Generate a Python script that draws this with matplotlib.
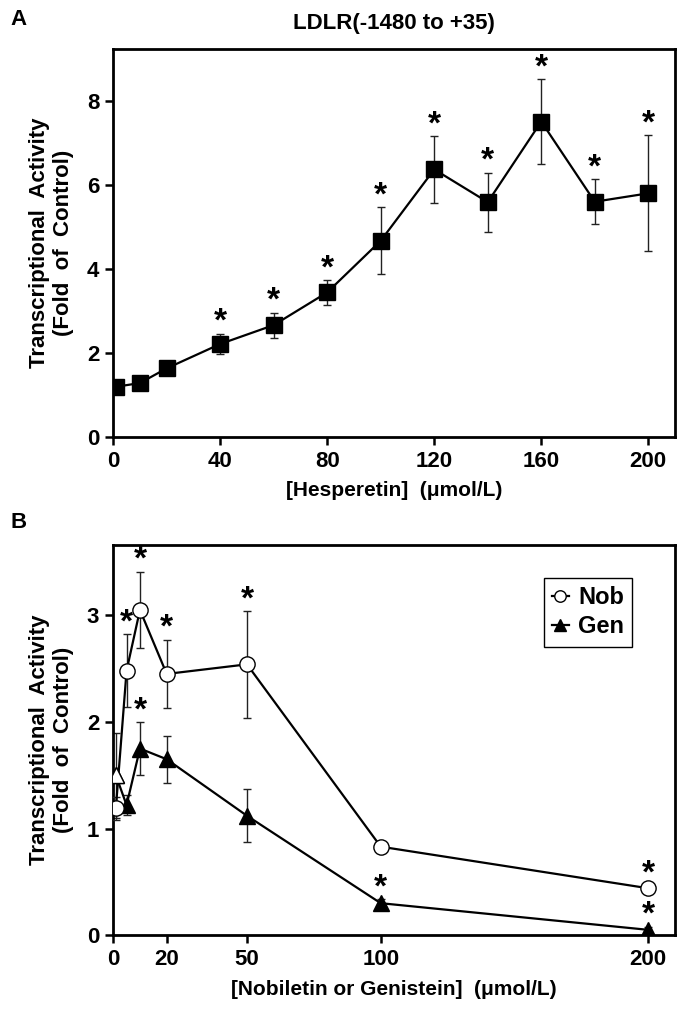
import numpy as np
import matplotlib.pyplot as plt

plt.rcParams['font.family'] = ['Liberation Sans', 'DejaVu Sans']
plt.rcParams['font.weight'] = 'bold'

# panel A - hesperetin
hes_x = [1, 10, 20, 40, 60, 80, 100, 120, 140, 160, 180, 200]
hes_y = [1.19, 1.28, 1.63, 2.21, 2.66, 3.44, 4.67, 6.37, 5.59, 7.51, 5.60, 5.80]
hes_err = [0.05, 0.05, 0.05, 0.25, 0.30, 0.29, 0.80, 0.79, 0.70, 1.01, 0.54, 1.38]
hes_sig = [False, False, False, True, True, True, True, True, True, True, True, True]

# panel B - nobiletin / genistein
nob_x = [1, 5, 10, 20, 50, 100, 200]
nob_y = [1.19, 2.48, 3.05, 2.45, 2.54, 0.83, 0.44]
nob_err = [0.11, 0.34, 0.36, 0.32, 0.50, 0.03, 0.03]
nob_sig = [False, True, True, True, True, False, True]

gen_x = [1, 5, 10, 20, 50, 100, 200]
gen_y = [1.50, 1.22, 1.75, 1.65, 1.12, 0.30, 0.05]
gen_err = [0.40, 0.09, 0.25, 0.22, 0.25, 0.04, 0.03]
gen_sig = [False, False, True, False, False, True, True]

fig = plt.figure(figsize=(6.86, 10.11), dpi=100)
axA = fig.add_axes([0.165, 0.568, 0.819, 0.384])
axB = fig.add_axes([0.165, 0.075, 0.819, 0.386])

ylab = 'Transcriptional  Activity\n(Fold  of  Control)'


def style(ax):
    for s in ax.spines.values():
        s.set_linewidth(2)
    ax.tick_params(direction='out', length=6, width=1.8, labelsize=16, pad=4)
    for lab in ax.get_xticklabels() + ax.get_yticklabels():
        lab.set_fontweight('bold')


def stars(ax, x, y, err, sig):
    for xi, yi, ei, si in zip(x, y, err, sig):
        if si:
            ax.annotate('*', (xi, yi + ei), xytext=(0, -3), textcoords='offset points',
                        ha='center', va='bottom', fontsize=24, fontweight='bold')


# A
axA.errorbar(hes_x, hes_y, yerr=hes_err, color='black', lw=1.6, marker='s', ms=11,
             mfc='black', mec='black', ecolor='#222222', elinewidth=1, capsize=3, capthick=1)
stars(axA, hes_x, hes_y, hes_err, hes_sig)
axA.set_xlim(0, 210)
axA.set_ylim(0, 9.25)
axA.set_xticks([0, 40, 80, 120, 160, 200])
axA.set_yticks([0, 2, 4, 6, 8])
style(axA)
axA.set_xlabel('[Hesperetin]  (\u03bcmol/L)', fontsize=15, fontweight='bold', labelpad=7)
axA.set_ylabel(ylab, fontsize=16, fontweight='bold', labelpad=9)
axA.set_title('LDLR(-1480 to +35)', fontsize=16, fontweight='bold', pad=14)
fig.text(0.015, 0.975, 'A', fontsize=16, fontweight='bold')

# B
axB.errorbar(nob_x, nob_y, yerr=nob_err, color='black', lw=1.6, marker='o', ms=11,
             mfc='white', mec='black', mew=1, ecolor='#222222', elinewidth=1,
             capsize=3, capthick=1, label='Nob', zorder=3)
axB.errorbar(gen_x, gen_y, yerr=gen_err, color='black', lw=1.6, marker='^', ms=11,
             mfc='black', mec='black', ecolor='#222222', elinewidth=1,
             capsize=3, capthick=1, label='Gen', zorder=2)
axB.plot(gen_x[0], gen_y[0], marker='^', ms=11, mfc='white', mec='black', mew=1, zorder=4)
stars(axB, nob_x, nob_y, nob_err, nob_sig)
stars(axB, gen_x, gen_y, gen_err, gen_sig)
axB.set_xlim(0, 210)
axB.set_ylim(0, 3.66)
axB.set_xticks([0, 20, 50, 100, 200])
axB.set_yticks([0, 1, 2, 3])
style(axB)
axB.set_xlabel('[Nobiletin or Genistein]  (\u03bcmol/L)', fontsize=15, fontweight='bold', labelpad=7)
axB.set_ylabel(ylab, fontsize=16, fontweight='bold', labelpad=9)
h, l = axB.get_legend_handles_labels()
h = [hh[0] for hh in h]
leg = axB.legend(h, l, loc='upper right', bbox_to_anchor=(0.945, 0.945), fontsize=17,
                 fancybox=False, edgecolor='black', handlelength=0.7, handletextpad=0.4,
                 borderpad=0.35, labelspacing=0.25, markerscale=0.75, framealpha=1)
leg.get_frame().set_linewidth(1)
for t in leg.get_texts():
    t.set_fontweight('bold')
fig.text(0.015, 0.478, 'B', fontsize=16, fontweight='bold')

fig.savefig('out.png', dpi=100)
